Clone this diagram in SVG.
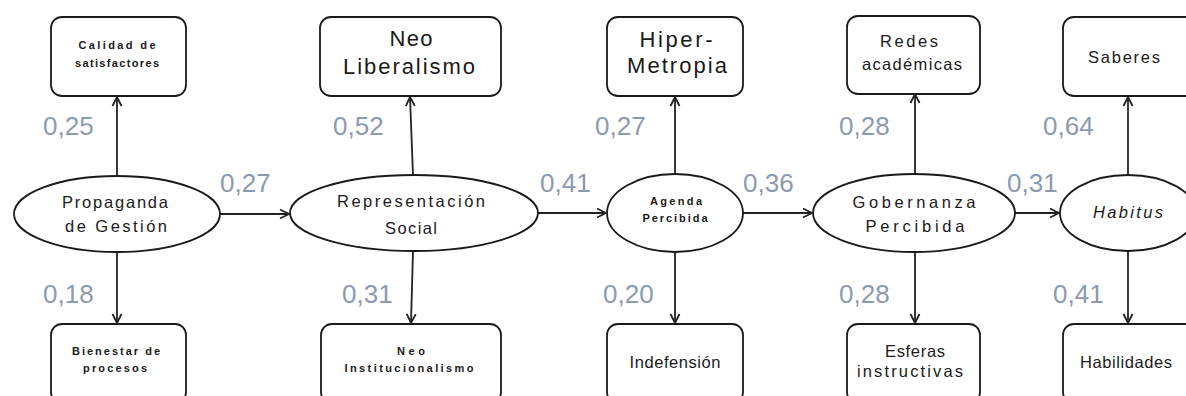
<svg xmlns="http://www.w3.org/2000/svg" width="1186" height="396" viewBox="0 0 1186 396">
<defs>
<marker id="arr" viewBox="0 0 12 12" refX="11" refY="6" markerWidth="12" markerHeight="12" markerUnits="userSpaceOnUse" orient="auto">
<polyline points="2,1.5 11,6 2,10.5" fill="none" stroke="#222" stroke-width="1.8"/>
</marker>
<style>
.box{fill:#fff;stroke:#1a1a1a;stroke-width:1.8}
.ell{fill:#fff;stroke:#1a1a1a;stroke-width:1.8}
.con{stroke:#222;stroke-width:1.8;fill:none;marker-end:url(#arr)}
.w{font-family:"Liberation Sans",Arial,sans-serif;font-size:26px;fill:#8c9ab0}
.t{font-family:"Liberation Sans",Arial,sans-serif;fill:#1a1a1a;text-anchor:middle}
.s{font-size:11px;font-weight:bold}
.m{font-size:16.5px}
.l{font-size:22px}
</style>
</defs>
<rect width="1186" height="396" fill="#fff"/>
<g id="connectors">
<line class="con" x1="117" y1="176" x2="117" y2="97"/>
<line class="con" x1="117" y1="252" x2="117" y2="323"/>
<line class="con" x1="220" y1="214" x2="289" y2="214"/>
<line class="con" x1="413" y1="175" x2="410" y2="97"/>
<line class="con" x1="413" y1="251" x2="411" y2="323"/>
<line class="con" x1="538" y1="213" x2="606" y2="213"/>
<line class="con" x1="675" y1="174" x2="675" y2="97"/>
<line class="con" x1="675" y1="252" x2="675" y2="323"/>
<line class="con" x1="743" y1="213" x2="812" y2="213"/>
<line class="con" x1="915" y1="174" x2="915" y2="94"/>
<line class="con" x1="915" y1="252" x2="915" y2="323"/>
<line class="con" x1="1015" y1="213" x2="1059" y2="213"/>
<line class="con" x1="1128" y1="175" x2="1128" y2="97"/>
<line class="con" x1="1128" y1="251" x2="1128" y2="323"/>
</g>
<g id="weights">
<text class="w" x="43" y="135">0,25</text>
<text class="w" x="43" y="303">0,18</text>
<text class="w" x="220" y="192">0,27</text>
<text class="w" x="333" y="135">0,52</text>
<text class="w" x="342" y="303">0,31</text>
<text class="w" x="540" y="192">0,41</text>
<text class="w" x="595" y="135">0,27</text>
<text class="w" x="603" y="303">0,20</text>
<text class="w" x="743" y="192">0,36</text>
<text class="w" x="839" y="135">0,28</text>
<text class="w" x="839" y="303">0,28</text>
<text class="w" x="1007" y="192">0,31</text>
<text class="w" x="1043" y="135">0,64</text>
<text class="w" x="1053" y="303">0,41</text>
</g>
<g id="n-calidad">
<rect class="box" x="51" y="17" width="135" height="79" rx="11"/>
<text class="t s" x="117" y="49" textLength="77" lengthAdjust="spacing">Calidad de</text>
<text class="t s" x="117" y="67" textLength="84" lengthAdjust="spacing">satisfactores</text>
</g>
<g id="n-propaganda">
<ellipse class="ell" cx="117" cy="214" rx="103" ry="38"/>
<text class="t m" x="115" y="208" textLength="106" lengthAdjust="spacing">Propaganda</text>
<text class="t m" x="116" y="232" textLength="102" lengthAdjust="spacing">de Gestión</text>
</g>
<g id="n-bienestar">
<rect class="box" x="51" y="324" width="135" height="79" rx="11"/>
<text class="t s" x="116" y="355" textLength="88" lengthAdjust="spacing">Bienestar de</text>
<text class="t s" x="115" y="372" textLength="64" lengthAdjust="spacing">procesos</text>
</g>
<g id="n-neoliberalismo">
<rect class="box" x="320" y="17" width="181" height="79" rx="11"/>
<text class="t l" x="411" y="46" textLength="43" lengthAdjust="spacing">Neo</text>
<text class="t l" x="409" y="74" textLength="132" lengthAdjust="spacing">Liberalismo</text>
</g>
<g id="n-representacion">
<ellipse class="ell" cx="414" cy="213" rx="124" ry="38"/>
<text class="t m" x="411" y="207" textLength="148" lengthAdjust="spacing">Representación</text>
<text class="t m" x="411" y="234" textLength="52" lengthAdjust="spacing">Social</text>
</g>
<g id="n-neoinstitucionalismo">
<rect class="box" x="321" y="324" width="180" height="79" rx="11"/>
<text class="t s" x="411" y="355" textLength="28" lengthAdjust="spacing">Neo</text>
<text class="t s" x="409" y="372" textLength="129" lengthAdjust="spacing">Institucionalismo</text>
</g>
<g id="n-hipermetropia">
<rect class="box" x="607" y="17" width="136" height="79" rx="11"/>
<text class="t l" x="676" y="47" textLength="73" lengthAdjust="spacing">Hiper-</text>
<text class="t l" x="677" y="73" textLength="100" lengthAdjust="spacing">Metropia</text>
</g>
<g id="n-agenda">
<ellipse class="ell" cx="675" cy="213" rx="68" ry="39"/>
<text class="t s" x="676" y="205" textLength="52" lengthAdjust="spacing">Agenda</text>
<text class="t s" x="675" y="222" textLength="65" lengthAdjust="spacing">Percibida</text>
</g>
<g id="n-indefension">
<rect class="box" x="607" y="324" width="136" height="79" rx="11"/>
<text class="t m" x="675" y="368" textLength="91" lengthAdjust="spacing">Indefensión</text>
</g>
<g id="n-redes">
<rect class="box" x="847" y="16" width="133" height="78" rx="11"/>
<text class="t m" x="909" y="47" textLength="58" lengthAdjust="spacing">Redes</text>
<text class="t m" x="912" y="70" textLength="100" lengthAdjust="spacing">académicas</text>
</g>
<g id="n-gobernanza">
<ellipse class="ell" cx="914" cy="213" rx="101" ry="39"/>
<text class="t m" x="914" y="208" textLength="123" lengthAdjust="spacing">Gobernanza</text>
<text class="t m" x="915" y="232" textLength="99" lengthAdjust="spacing">Percibida</text>
</g>
<g id="n-esferas">
<rect class="box" x="847" y="324" width="133" height="79" rx="11"/>
<text class="t m" x="915" y="357" textLength="60" lengthAdjust="spacing">Esferas</text>
<text class="t m" x="910" y="377" textLength="106" lengthAdjust="spacing">instructivas</text>
</g>
<g id="n-saberes">
<rect class="box" x="1063" y="17" width="140" height="79" rx="11"/>
<text class="t m" x="1124" y="63" textLength="72" lengthAdjust="spacing">Saberes</text>
</g>
<g id="n-habitus">
<ellipse class="ell" cx="1128" cy="213" rx="68" ry="38"/>
<text class="t m" x="1128" y="218" font-style="italic" textLength="70" lengthAdjust="spacing">Habitus</text>
</g>
<g id="n-habilidades">
<rect class="box" x="1063" y="324" width="140" height="79" rx="11"/>
<text class="t m" x="1126" y="368" textLength="92" lengthAdjust="spacing">Habilidades</text>
</g>
</svg>
